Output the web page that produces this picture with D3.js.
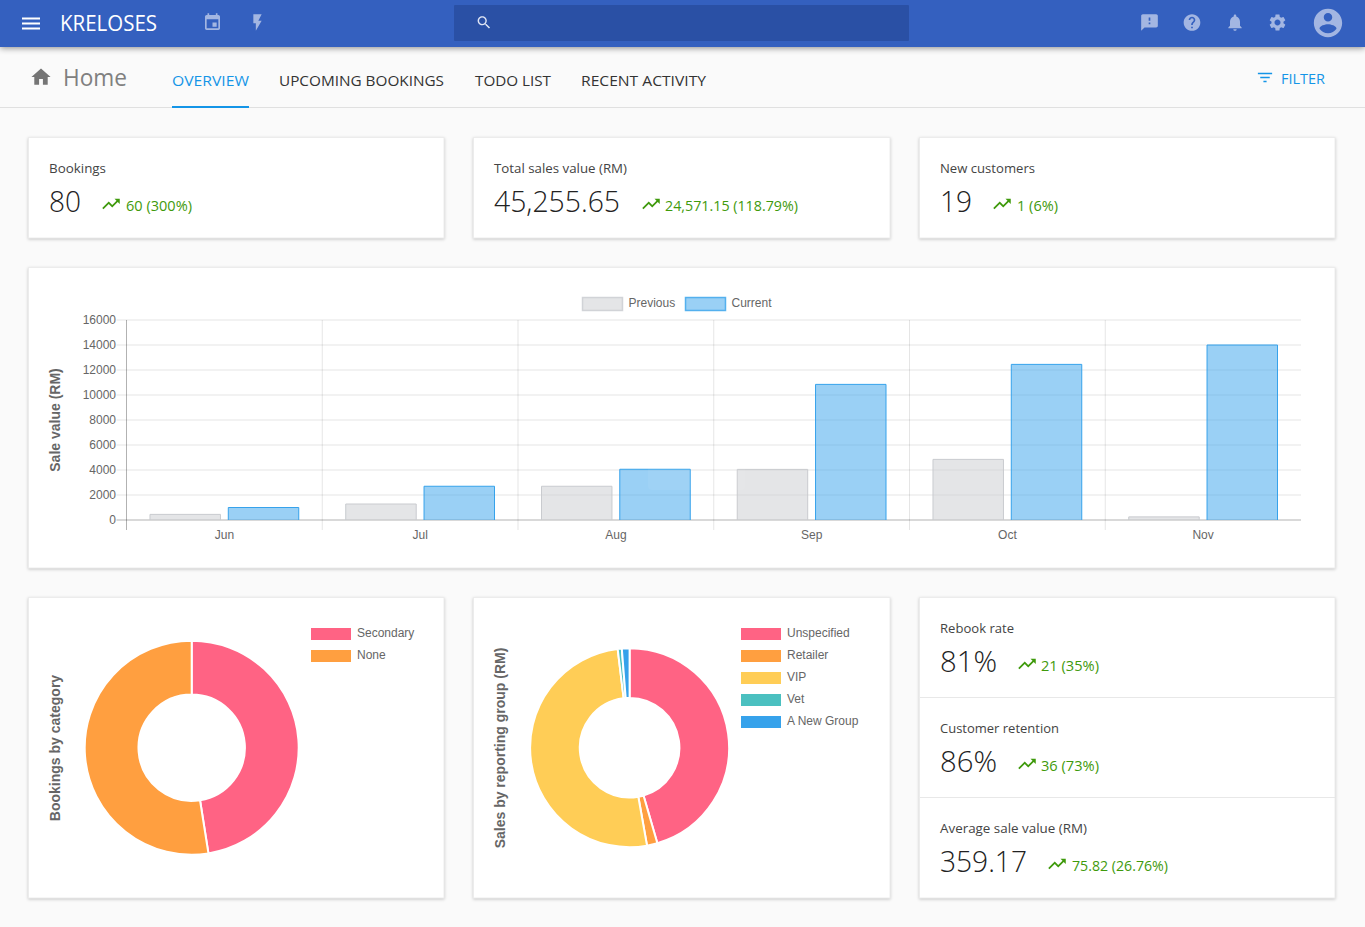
<!DOCTYPE html>
<html>
<head>
<meta charset="utf-8">
<title>Kreloses</title>
<script src="https://cdn.jsdelivr.net/npm/d3@7"></script>
<style>
  html, body { margin: 0; padding: 0; background: #fafafa; overflow: hidden; }
  svg { display: block; }
  .ui { font-family: "Open Sans", "Noto Sans", sans-serif; }
  .chart text { font-family: "Liberation Sans", Arial, sans-serif; fill: #666; font-size: 12px; }
  .chart .title { font-size: 14px; font-weight: bold; }
  .card { fill: #fff; stroke: #ececec; stroke-width: 1; filter: drop-shadow(0 1px 1.5px rgba(0,0,0,.2)); }
</style>
</head>
<body>
<div id="canvas"></div>
<script>
// sales bar chart
const months = ['Jun', 'Jul', 'Aug', 'Sep', 'Oct', 'Nov'];
const previousSales = [450, 1280, 2700, 4050, 4850, 250];
const currentSales = [1000, 2700, 4060, 10850, 12450, 14000];
const salesTicks = [0, 2000, 4000, 6000, 8000, 10000, 12000, 14000, 16000];
const salesSeries = ['Previous', 'Current'];

// donuts
const categoryLabels = ['Secondary', 'None'];
const categoryValues = [38, 42];
const groupLabels = ['Unspecified', 'Retailer', 'VIP', 'Vet', 'A New Group'];
const groupValues = [20590, 770, 23030, 300, 565];

const donutColors = ['#ff6384', '#ff9f40', '#ffcd56', '#4bc0c0', '#36a2eb'];

// nav
const tabs = ['OVERVIEW', 'UPCOMING BOOKINGS', 'TODO LIST', 'RECENT ACTIVITY'];

// stat tiles
const statLabels = ['Bookings', 'Total sales value (RM)', 'New customers', 'Rebook rate', 'Customer retention', 'Average sale value (RM)'];
const statValues = ['80', '45,255.65', '19', '81%', '86%', '359.17'];
const statChanges = ['60 (300%)', '24,571.15 (118.79%)', '1 (6%)', '21 (35%)', '36 (73%)', '75.82 (26.76%)'];

const ICONS = {
  menu: 'M3 18h18v-2H3v2zm0-5h18v-2H3v2zm0-7v2h18V6H3z',
  event: 'M17 12h-5v5h5v-5zM16 1v2H8V1H6v2H5c-1.11 0-1.99.9-1.99 2L3 19c0 1.1.89 2 2 2h14c1.1 0 2-.9 2-2V5c0-1.1-.9-2-2-2h-1V1h-2zm3 18H5V8h14v11z',
  flash: 'M7 2v11h3v9l7-12h-4l4-8z',
  search: 'M15.5 14h-.79l-.28-.27C15.41 12.59 16 11.11 16 9.5 16 5.91 13.09 3 9.5 3S3 5.91 3 9.5 5.91 16 9.5 16c1.61 0 3.09-.59 4.23-1.57l.27.28v.79l5 4.99L20.49 19l-4.99-5zm-6 0C7.01 14 5 11.99 5 9.5S7.01 5 9.5 5 14 7.01 14 9.5 11.99 14 9.5 14z',
  feedback: 'M20 2H4c-1.1 0-1.99.9-1.99 2L2 22l4-4h14c1.1 0 2-.9 2-2V4c0-1.1-.9-2-2-2zm-7 12h-2v-2h2v2zm0-4h-2V6h2v4z',
  help: 'M12 2C6.48 2 2 6.48 2 12s4.48 10 10 10 10-4.48 10-10S17.52 2 12 2zm1 17h-2v-2h2v2zm2.07-7.75l-.9.92C13.45 12.9 13 13.5 13 15h-2v-.5c0-1.1.45-2.1 1.17-2.83l1.24-1.26c.37-.36.59-.86.59-1.41 0-1.1-.9-2-2-2s-2 .9-2 2H8c0-2.21 1.79-4 4-4s4 1.79 4 4c0 .88-.36 1.68-.93 2.25z',
  bell: 'M12 22c1.1 0 2-.9 2-2h-4c0 1.1.89 2 2 2zm6-6v-5c0-3.07-1.64-5.64-4.5-6.32V4c0-.83-.67-1.5-1.5-1.5s-1.5.67-1.5 1.5v.68C7.63 5.36 6 7.92 6 11v5l-2 2v1h16v-1l-2-2z',
  settings: 'M19.14 12.94c.04-.3.06-.61.06-.94 0-.32-.02-.64-.07-.94l2.03-1.58c.18-.14.23-.41.12-.61l-1.92-3.32c-.12-.22-.37-.29-.59-.22l-2.39.96c-.5-.38-1.03-.7-1.62-.94l-.36-2.54c-.04-.24-.24-.41-.48-.41h-3.84c-.24 0-.43.17-.47.41l-.36 2.54c-.59.24-1.13.57-1.62.94l-2.39-.96c-.22-.08-.47 0-.59.22L2.74 8.87c-.12.21-.08.47.12.61l2.03 1.58c-.05.3-.09.63-.09.94s.02.64.07.94l-2.03 1.58c-.18.14-.23.41-.12.61l1.92 3.32c.12.22.37.29.59.22l2.39-.96c.5.38 1.03.7 1.62.94l.36 2.54c.05.24.24.41.48.41h3.84c.24 0 .44-.17.47-.41l.36-2.54c.59-.24 1.13-.56 1.62-.94l2.39.96c.22.08.47 0 .59-.22l1.92-3.32c.12-.22.07-.47-.12-.61l-2.01-1.58zM12 15.6c-1.98 0-3.6-1.62-3.6-3.6s1.62-3.6 3.6-3.6 3.6 1.62 3.6 3.6-1.62 3.6-3.6 3.6z',
  account: 'M12 2C6.48 2 2 6.48 2 12s4.48 10 10 10 10-4.48 10-10S17.52 2 12 2zm0 3c1.66 0 3 1.34 3 3s-1.34 3-3 3-3-1.34-3-3 1.34-3 3-3zm0 14.2c-2.5 0-4.71-1.28-6-3.22.03-1.99 4-3.08 6-3.08 1.99 0 5.97 1.09 6 3.08-1.29 1.94-3.5 3.22-6 3.22z',
  home: 'M10 20v-6h4v6h5v-8h3L12 3 2 12h3v8z',
  filter: 'M10 18h4v-2h-4v2zM3 6v2h18V6H3zm3 7h12v-2H6v2z',
  trend: 'M16 6l2.29 2.29-4.88 4.88-4-4L2 16.59 3.41 18l6-6 4 4 6.3-6.29L22 12V6z'
};

const svg = d3.select('#canvas')
  .append('svg')
  .attr('width', 1365)
  .attr('height', 927);

svg.append('rect')
  .attr('width', 1365)
  .attr('height', 927)
  .attr('fill', '#fafafa');

const icon = (name, cx, cy, size, fill) => {
  svg.append('path')
    .attr('d', ICONS[name])
    .attr('fill', fill)
    .attr('transform', `translate(${cx - size / 2},${cy - size / 2}) scale(${size / 24})`);
};

const label = (x, y, text, size, fill, width, weight = 400) => {
  svg.append('text')
    .attr('class', 'ui')
    .attr('x', x)
    .attr('y', y)
    .attr('font-size', size)
    .attr('font-weight', weight)
    .attr('fill', fill)
    .attr('textLength', width)
    .attr('lengthAdjust', 'spacingAndGlyphs')
    .text(text);
};

// top bar
svg.append('rect')
  .attr('width', 1365)
  .attr('height', 47)
  .attr('fill', '#3460bf')
  .style('filter', 'drop-shadow(0 1px 3px rgba(0,0,0,.45))');
svg.append('rect')
  .attr('x', 454)
  .attr('y', 5)
  .attr('width', 455)
  .attr('height', 36)
  .attr('rx', 1)
  .attr('fill', '#2a50a5');

icon('menu', 31, 23.5, 24, '#fff');
label(60, 31, 'KRELOSES', 21, '#fff', 97);
const faded = '#a3b6e2';
icon('event', 212.5, 22.5, 20, faded);
icon('flash', 257.5, 22.5, 20, faded);
icon('search', 484, 22.5, 17, '#dfe5f5');
icon('feedback', 1149.5, 22.5, 20, faded);
icon('help', 1192, 22.5, 20, faded);
icon('bell', 1235, 22.5, 20, faded);
icon('settings', 1277.5, 22.5, 20, faded);
icon('account', 1328, 23, 34, faded);

// sub header
svg.append('line')
  .attr('x1', 0)
  .attr('x2', 1365)
  .attr('y1', 107.5)
  .attr('y2', 107.5)
  .attr('stroke', '#e0e0e0');
icon('home', 41, 77, 23, '#757575');
label(63, 86, 'Home', 23, '#808080', 64);

const tabBlue = '#1495e7';
label(172, 86, tabs[0], 15, tabBlue, 77);
label(279, 86, tabs[1], 15, '#333', 165);
label(475, 86, tabs[2], 15, '#333', 76);
label(581, 86, tabs[3], 15, '#333', 125);
svg.append('rect')
  .attr('x', 172)
  .attr('y', 106)
  .attr('width', 77)
  .attr('height', 2)
  .attr('fill', tabBlue);
icon('filter', 1265, 77.5, 19, tabBlue);
label(1281, 84, 'FILTER', 14.5, tabBlue, 44);

// cards
const card = (x, y, w, h) => svg.append('rect')
  .attr('class', 'card')
  .attr('x', x - 0.5)
  .attr('y', y - 0.5)
  .attr('width', w + 0.5)
  .attr('height', h + 0.5);

card(29, 138, 415, 100);
card(474, 138, 416, 100);
card(920, 138, 415, 100);
card(29, 268, 1306, 300);
card(29, 598, 415, 300);
card(474, 598, 416, 300);
card(920, 598, 415, 300);

[697.5, 797.5].forEach(y => {
  svg.append('line')
    .attr('x1', 920)
    .attr('x2', 1335)
    .attr('y1', y)
    .attr('y2', y)
    .attr('stroke', '#e8e8e8');
});

const green = '#3f9a0c';
const stat = (i, x, top, valueWidth, labelWidth, iconX, changeX, changeWidth) => {
  label(x, top + 35, statLabels[i], 13.5, '#444', labelWidth);
  label(x, top + 74, statValues[i], 29, '#222', valueWidth, 300);
  icon('trend', iconX, top + 66, 21, green);
  label(changeX, top + 73, statChanges[i], 14, green, changeWidth);
};

stat(0, 49, 138, 32, 57, 111, 126, 66);
stat(1, 494, 138, 126, 133, 651, 665, 133);
stat(2, 940, 138, 32, 95, 1002, 1017, 41);
stat(3, 940, 598, 57, 74, 1027, 1041, 58);
stat(4, 940, 698, 57, 119, 1027, 1041, 58);
stat(5, 940, 798, 87, 147, 1057, 1072, 96);

// bar chart
const chartTop = 320;
const chartBottom = 520;
const chartLeft = 126.5;
const chartRight = 1301;

const x = d3.scaleBand()
  .domain(months)
  .range([chartLeft, chartRight]);

const xSeries = d3.scaleBand()
  .domain(salesSeries)
  .range([x.bandwidth() * 0.1, x.bandwidth() * 0.9])
  .paddingInner(0.1)
  .paddingOuter(0.05);

const y = d3.scaleLinear()
  .domain([0, 16000])
  .range([chartBottom, chartTop]);

const chart = svg.append('g').attr('class', 'chart');

const yAxis = chart.append('g')
  .attr('transform', `translate(${chartLeft},0)`)
  .call(d3.axisLeft(y).tickValues(salesTicks).tickFormat(d3.format('d')).tickSize(10).tickSizeOuter(0).tickPadding(0.5).offset(0));
yAxis.select('.domain').remove();
yAxis.selectAll('.tick line')
  .attr('x1', -10)
  .attr('x2', chartRight - chartLeft)
  .attr('stroke', d => d === 0 ? 'rgba(0,0,0,.3)' : 'rgba(0,0,0,.1)');

const xAxis = chart.append('g')
  .attr('transform', `translate(0,${chartBottom})`)
  .call(d3.axisBottom(x).tickSize(0).tickPadding(0).offset(0));
xAxis.select('.domain').remove();
xAxis.selectAll('.tick text')
  .attr('y', 10)
  .attr('dy', '.71em');

chart.append('g')
  .selectAll('line')
  .data(months)
  .join('line')
  .attr('x1', d => x(d))
  .attr('x2', d => x(d))
  .attr('y1', chartTop)
  .attr('y2', chartBottom + 10)
  .attr('stroke', (d, i) => i === 0 ? 'rgba(0,0,0,.3)' : 'rgba(0,0,0,.1)');

const seriesFill = { Previous: 'rgba(201,203,207,.5)', Current: 'rgba(54,162,235,.5)' };
const seriesStroke = { Previous: 'rgb(201,203,207)', Current: 'rgb(54,162,235)' };

const drawBars = (name, values) => {
  const bars = chart.append('g')
    .selectAll('g')
    .data(values)
    .join('g');
  bars.append('rect')
    .attr('x', (d, i) => x(months[i]) + xSeries(name))
    .attr('y', d => y(d))
    .attr('width', xSeries.bandwidth())
    .attr('height', d => chartBottom - y(d))
    .attr('fill', seriesFill[name]);
  // open bottom edge, same as the original bars
  bars.append('path')
    .attr('d', (d, i) => {
      const left = x(months[i]) + xSeries(name);
      return `M${left},${chartBottom}V${y(d)}H${left + xSeries.bandwidth()}V${chartBottom}`;
    })
    .attr('fill', 'none')
    .attr('stroke', seriesStroke[name]);
};

drawBars('Previous', previousSales);
drawBars('Current', currentSales);

// faded tooltip left over in the screenshot
chart.append('rect')
  .attr('x', 648)
  .attr('y', 451)
  .attr('width', 97)
  .attr('height', 39)
  .attr('rx', 4)
  .attr('fill', '#fff')
  .attr('opacity', 0.05);

// bar legend
const legendX = d3.scaleOrdinal().domain(salesSeries).range([582.5, 685.5]);
const legend = chart.append('g')
  .selectAll('g')
  .data(salesSeries)
  .join('g');
legend.append('rect')
  .attr('x', d => legendX(d))
  .attr('y', 297.5)
  .attr('width', 40)
  .attr('height', 13)
  .attr('fill', d => seriesFill[d])
  .attr('stroke', d => seriesStroke[d])
  .attr('stroke-opacity', 0.8)
  .attr('stroke-width', 1.5);
legend.append('text')
  .attr('x', d => legendX(d) + 46)
  .attr('y', 307)
  .text(d => d);

const sideTitle = (text, bx, cy) => {
  chart.append('text')
    .attr('class', 'title')
    .attr('transform', `translate(${bx},${cy}) rotate(-90)`)
    .attr('text-anchor', 'middle')
    .text(text);
};
sideTitle('Sale value (RM)', 60, 420);
sideTitle('Bookings by category', 60, 748);
sideTitle('Sales by reporting group (RM)', 505, 748);

// donuts
const pie = d3.pie().sort(null);

const donut = (values, labels, cx, cy, outer, inner, legendLeft) => {
  const arc = d3.arc().innerRadius(inner).outerRadius(outer);
  const color = d3.scaleOrdinal().domain(labels).range(donutColors);

  chart.append('g')
    .attr('transform', `translate(${cx},${cy})`)
    .selectAll('path')
    .data(pie(values))
    .join('path')
    .attr('d', arc)
    .attr('fill', (d, i) => color(labels[i]))
    .attr('stroke', '#fff')
    .attr('stroke-width', 2);

  const items = chart.append('g')
    .selectAll('g')
    .data(labels)
    .join('g');
  items.append('rect')
    .attr('x', legendLeft)
    .attr('y', (d, i) => 628 + i * 22)
    .attr('width', 40)
    .attr('height', 12)
    .attr('fill', d => color(d));
  items.append('text')
    .attr('x', legendLeft + 46)
    .attr('y', (d, i) => 637 + i * 22)
    .text(d => d);
};

donut(categoryValues, categoryLabels, 191.7, 747.7, 107, 53.2, 311);
donut(groupValues, groupLabels, 629.6, 747.7, 99.5, 49.8, 741);
</script>
</body>
</html>
